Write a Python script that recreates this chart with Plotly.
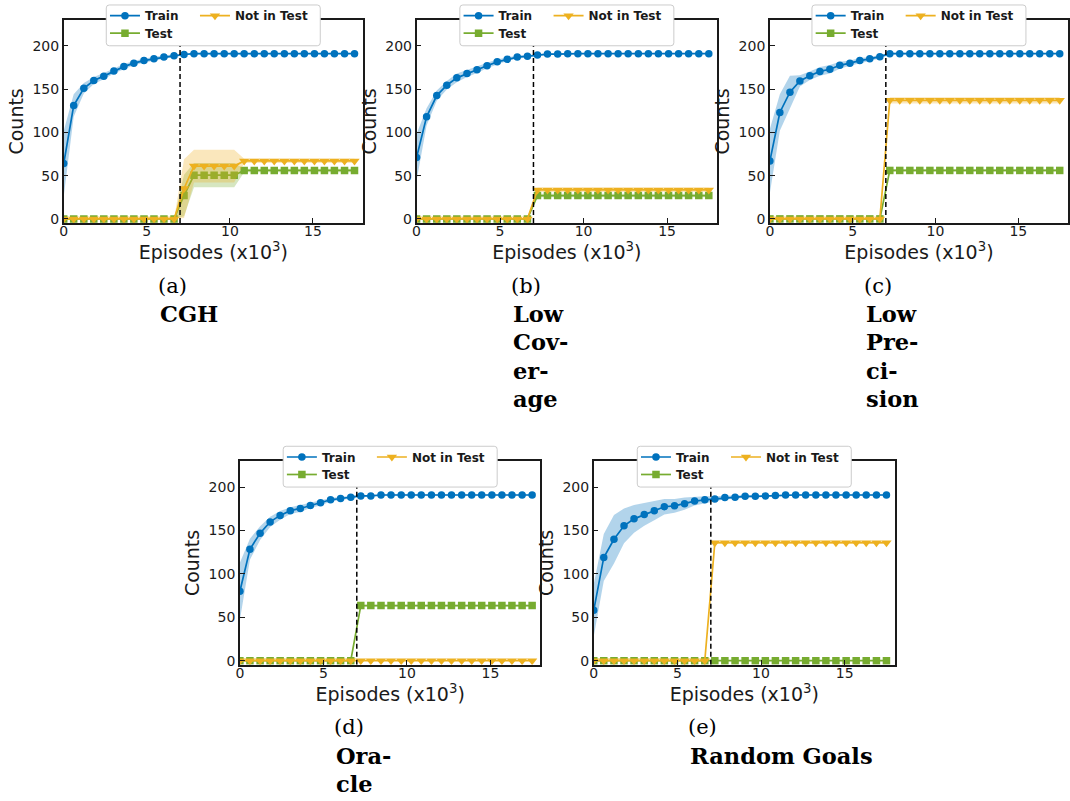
import plotly.graph_objects as go

W, H = 1070, 801

# ---------------- data ----------------
episodes = [0.0, 0.6, 1.21, 1.81, 2.41, 3.02, 3.62, 4.22, 4.83, 5.43, 6.03, 6.64,
            7.24, 7.84, 8.45, 9.05, 9.66, 10.26, 10.86, 11.47, 12.07, 12.67, 13.28,
            13.88, 14.48, 15.09, 15.69, 16.29, 16.9, 17.5]
switch_episode = 7.0
switch_top = 200

x_ticks = [0, 5, 10, 15]
y_ticks = [0, 50, 100, 150, 200]
series_names = ["Train", "Test", "Not in Test"]
captions = ["(a)", "(b)", "(c)", "(d)", "(e)"]
caption_titles = [["CGH"], ["Low", "Cov-", "er-", "age"], ["Low", "Pre-", "ci-", "sion"],
                  ["Ora-", "cle"], ["Random Goals"]]

# (a) CGH
train_a = [64, 131, 151, 160, 165, 171, 176, 180, 183, 185, 187, 188.5, 190, 191, 191,
           191, 191, 191, 191, 191, 191, 191, 191, 191, 191, 191, 191, 191, 191, 191]
train_sd_a = [38, 13, 6, 4, 3.5, 3, 3, 2.5, 2.5, 2, 2, 1.5, 1, 1, 0.8,
              0.8, 0.8, 0.8, 0.5, 0.5, 0.5, 0.5, 0.5, 0.5, 0.5, 0.5, 0.5, 0.5, 0.5, 0.5]
test_a = [0, 0, 0, 0, 0, 0, 0, 0, 0, 0, 0, 0, 27, 50.5, 50.5,
          50.5, 50.5, 50.5, 56, 56, 56, 56, 56, 56, 56, 56, 56, 56, 56, 56]
test_sd_a = [0, 0, 0, 0, 0, 0, 0, 0, 0, 0, 0, 0, 24, 14, 14,
             14, 14, 14, 2, 2, 2, 2, 2, 2, 2, 2, 2, 2, 2, 2]
nit_a = [0, 0, 0, 0, 0, 0, 0, 0, 0, 0, 0, 0, 35, 61, 61,
         61, 61, 61, 67, 67, 67, 67, 67, 67, 67, 67, 67, 67, 67, 67]
nit_sd_a = [0, 0, 0, 0, 0, 0, 0, 0, 0, 0, 0, 0, 34, 19, 19,
            19, 19, 19, 2.5, 2.5, 2.5, 2.5, 2.5, 2.5, 2.5, 2.5, 2.5, 2.5, 2.5, 2.5]

# (b) Low Coverage
train_b = [71, 118, 142.5, 154.5, 163, 168, 172.5, 177, 181.5, 184.5, 187, 188, 189.5, 190.5, 190.5,
           191, 191, 191, 191, 191, 191, 191, 191, 191, 191, 191, 191, 191, 191, 191]
train_sd_b = [27, 10, 6, 5, 5, 4, 4, 3, 3, 2, 2, 1.5, 1, 1, 0.8,
              0.8, 0.8, 0.8, 0.5, 0.5, 0.5, 0.5, 0.5, 0.5, 0.5, 0.5, 0.5, 0.5, 0.5, 0.5]
test_b = [0, 0, 0, 0, 0, 0, 0, 0, 0, 0, 0, 0, 27, 27, 27,
          27, 27, 27, 27, 27, 27, 27, 27, 27, 27, 27, 27, 27, 27, 27]
test_sd_b = [0, 0, 0, 0, 0, 0, 0, 0, 0, 0, 0, 0, 2, 2, 2,
             2, 2, 2, 2, 2, 2, 2, 2, 2, 2, 2, 2, 2, 2, 2]
nit_b = [0, 0, 0, 0, 0, 0, 0, 0, 0, 0, 0, 0, 33.5, 33.5, 33.5,
         33.5, 33.5, 33.5, 33.5, 33.5, 33.5, 33.5, 33.5, 33.5, 33.5, 33.5, 33.5, 33.5, 33.5, 33.5]
nit_sd_b = [0, 0, 0, 0, 0, 0, 0, 0, 0, 0, 0, 0, 2.5, 2.5, 2.5,
            2.5, 2.5, 2.5, 2.5, 2.5, 2.5, 2.5, 2.5, 2.5, 2.5, 2.5, 2.5, 2.5, 2.5, 2.5]

# (c) Low Precision
train_c = [67, 123, 146.5, 159.5, 165.5, 170.5, 173, 177.5, 180, 183, 185, 187.5, 191, 191, 191,
           191, 191, 191, 191, 191, 191, 191, 191, 191, 191, 191, 191, 191, 191, 191]
train_sd_c = [37, 21, 19, 6.5, 5, 5, 5, 4, 3, 3, 2, 2, 1, 1, 0.8,
              0.8, 0.8, 0.8, 0.5, 0.5, 0.5, 0.5, 0.5, 0.5, 0.5, 0.5, 0.5, 0.5, 0.5, 0.5]
test_c = [0, 0, 0, 0, 0, 0, 0, 0, 0, 0, 0, 0, 56, 56, 56,
          56, 56, 56, 56, 56, 56, 56, 56, 56, 56, 56, 56, 56, 56, 56]
test_sd_c = [0, 0, 0, 0, 0, 0, 0, 0, 0, 0, 0, 0, 1.5, 1.5, 1.5,
             1.5, 1.5, 1.5, 1.5, 1.5, 1.5, 1.5, 1.5, 1.5, 1.5, 1.5, 1.5, 1.5, 1.5, 1.5]
nit_c = [0, 0, 0, 0, 0, 0, 0, 0, 0, 0, 0, 0, 137, 137, 137,
         137, 137, 137, 137, 137, 137, 137, 137, 137, 137, 137, 137, 137, 137, 137]
nit_sd_c = [0, 0, 0, 0, 0, 0, 0, 0, 0, 0, 0, 0, 3.5, 3.5, 3.5,
            3.5, 3.5, 3.5, 3.5, 3.5, 3.5, 3.5, 3.5, 3.5, 3.5, 3.5, 3.5, 3.5, 3.5, 3.5]

# (d) Oracle
train_d = [80, 128.5, 147, 160, 167.5, 173, 175.5, 179, 182, 185.5, 187, 188.5, 190, 190, 191,
           191, 191, 191, 191, 191, 191, 191, 191, 191, 191, 191, 191, 191, 191, 191]
train_sd_d = [33, 12, 8, 6, 5, 4, 4, 3, 3, 2, 2, 1.5, 1, 1, 0.8,
              0.8, 0.8, 0.8, 0.5, 0.5, 0.5, 0.5, 0.5, 0.5, 0.5, 0.5, 0.5, 0.5, 0.5, 0.5]
test_d = [0, 0, 0, 0, 0, 0, 0, 0, 0, 0, 0, 0, 63.5, 63.5, 63.5,
          63.5, 63.5, 63.5, 63.5, 63.5, 63.5, 63.5, 63.5, 63.5, 63.5, 63.5, 63.5, 63.5, 63.5, 63.5]
test_sd_d = [0, 0, 0, 0, 0, 0, 0, 0, 0, 0, 0, 0, 1, 1, 1,
             1, 1, 1, 1, 1, 1, 1, 1, 1, 1, 1, 1, 1, 1, 1]
nit_d = [0, 0, 0, 0, 0, 0, 0, 0, 0, 0, 0, 0, 0, 0, 0,
         0, 0, 0, 0, 0, 0, 0, 0, 0, 0, 0, 0, 0, 0, 0]
nit_sd_d = [0, 0, 0, 0, 0, 0, 0, 0, 0, 0, 0, 0, 0, 0, 0,
            0, 0, 0, 0, 0, 0, 0, 0, 0, 0, 0, 0, 0, 0, 0]

# (e) Random Goals
train_e = [58, 119, 140, 155.5, 163.5, 168.5, 173, 177.5, 178.5, 181, 184, 185.5, 186.5, 188, 188.5,
           189.5, 189.5, 190, 190.5, 191, 191, 191, 191, 191, 191, 191, 191, 191, 191, 191]
train_sd_e = [30, 27, 28, 20, 16, 13, 11, 9, 8, 7, 5, 4, 3, 2, 2,
              1.5, 1, 1, 1, 0.8, 0.8, 0.8, 0.5, 0.5, 0.5, 0.5, 0.5, 0.5, 0.5, 0.5]
test_e = [0, 0, 0, 0, 0, 0, 0, 0, 0, 0, 0, 0, 0, 0, 0,
          0, 0, 0, 0, 0, 0, 0, 0, 0, 0, 0, 0, 0, 0, 0]
test_sd_e = [0, 0, 0, 0, 0, 0, 0, 0, 0, 0, 0, 0, 0, 0, 0,
             0, 0, 0, 0, 0, 0, 0, 0, 0, 0, 0, 0, 0, 0, 0]
nit_e = [0, 0, 0, 0, 0, 0, 0, 0, 0, 0, 0, 0, 136, 136, 136,
         136, 136, 136, 136, 136, 136, 136, 136, 136, 136, 136, 136, 136, 136, 136]
nit_sd_e = [0, 0, 0, 0, 0, 0, 0, 0, 0, 0, 0, 0, 1.5, 1.5, 1.5,
            1.5, 1.5, 1.5, 1.5, 1.5, 1.5, 1.5, 1.5, 1.5, 1.5, 1.5, 1.5, 1.5, 1.5, 1.5]

panels_data = [
    [(train_a, train_sd_a), (test_a, test_sd_a), (nit_a, nit_sd_a)],
    [(train_b, train_sd_b), (test_b, test_sd_b), (nit_b, nit_sd_b)],
    [(train_c, train_sd_c), (test_c, test_sd_c), (nit_c, nit_sd_c)],
    [(train_d, train_sd_d), (test_d, test_sd_d), (nit_d, nit_sd_d)],
    [(train_e, train_sd_e), (test_e, test_sd_e), (nit_e, nit_sd_e)],
]

# ---------------- style / layout ----------------
colors = [(0, 114, 189), (119, 172, 48), (237, 177, 32)]
symbols = ["circle", "square", "triangle-down"]
msizes = [7.5, 7.5, 9]

# axes boxes in pixels: left, right, top, bottom
boxes = [(60, 360.5, 20, 224), (414.5, 716.5, 20, 224), (769.5, 1069, 20, 224),
         (237, 539, 463.5, 668), (592.5, 895, 463.5, 668)]
x_range = [0, 18]
y_range = [-4.6, 230]

SANS = "DejaVu Sans"
SERIF = "DejaVu Serif"
INK = "#1a1a1a"


def px(xp):
    return xp / W


def py(yp):
    return 1 - yp / H


def rgba(c, a):
    return "rgba(%d,%d,%d,%s)" % (c[0], c[1], c[2], a)


fig = go.Figure()
layout = dict(width=W, height=H, margin=dict(l=0, r=0, t=0, b=0),
              paper_bgcolor="white", plot_bgcolor="white", showlegend=True)
shapes = []
annotations = []

for i, (box, pdata) in enumerate(zip(boxes, panels_data)):
    L, R, T, B = box
    n = i + 1
    xa = "x" if n == 1 else "x%d" % n
    ya = "y" if n == 1 else "y%d" % n
    xkey = "xaxis" if n == 1 else "xaxis%d" % n
    ykey = "yaxis" if n == 1 else "yaxis%d" % n
    leg1 = "legend" if i == 0 else "legend%d" % (2 * i + 1)
    leg2 = "legend%d" % (2 * i + 2)

    for k, (mean, sd) in enumerate(pdata):
        c = colors[k]
        lower = [m - s for m, s in zip(mean, sd)]
        upper = [m + s for m, s in zip(mean, sd)]
        fig.add_trace(go.Scatter(x=episodes, y=lower, mode="lines", line=dict(width=0, color=rgba(c, 0)),
                                 showlegend=False, hoverinfo="skip", xaxis=xa, yaxis=ya))
        fig.add_trace(go.Scatter(x=episodes, y=upper, mode="lines", line=dict(width=0, color=rgba(c, 0)),
                                 fill="tonexty", fillcolor=rgba(c, 0.3),
                                 showlegend=False, hoverinfo="skip", xaxis=xa, yaxis=ya))
        tr = dict(x=episodes, y=mean, mode="lines+markers", name=series_names[k],
                  line=dict(width=1.7, color=rgba(c, 1)),
                  marker=dict(symbol=symbols[k], size=msizes[k], color=rgba(c, 1),
                              line=dict(width=0)),
                  legend=(leg2 if k == 1 else leg1), xaxis=xa, yaxis=ya)
        if k == 0:
            tr["legendwidth"] = 45
        fig.add_trace(go.Scatter(**tr))

    common = dict(showgrid=False, zeroline=False, showline=True, mirror=True,
                  linecolor=INK, linewidth=1.5, ticks="inside", ticklen=5, tickwidth=1.3,
                  tickcolor=INK, tickfont=dict(family=SANS, size=14, color=INK))
    layout[xkey] = dict(common, domain=[px(L), px(R)], range=x_range, tickvals=x_ticks,
                        anchor=ya, ticklabelstandoff=-5,
                        title=dict(text="Episodes (x10<sup>3</sup>)", standoff=4,
                                   font=dict(family=SANS, size=19, color=INK)))
    layout[ykey] = dict(common, domain=[py(B), py(T)], range=y_range, tickvals=y_ticks,
                        anchor=xa,
                        title=dict(text="Counts", standoff=4,
                                   font=dict(family=SANS, size=19, color=INK)))

    # switch line
    shapes.append(dict(type="line", xref=xa, yref=ya, x0=switch_episode, x1=switch_episode,
                       y0=y_range[0], y1=switch_top, layer="above",
                       line=dict(color="black", width=1.5, dash="5px,3px")))

    # legend frame (rounded box)
    cx = (L + R) / 2
    bx0, bx1 = cx - 107.5, cx + 107.5
    by0, by1 = T - 15, T + 26
    r = 3
    path = ("M %f,%f L %f,%f Q %f,%f %f,%f L %f,%f Q %f,%f %f,%f L %f,%f Q %f,%f %f,%f "
            "L %f,%f Q %f,%f %f,%f Z") % (
        px(bx0 + r), py(by0), px(bx1 - r), py(by0), px(bx1), py(by0), px(bx1), py(by0 + r),
        px(bx1), py(by1 - r), px(bx1), py(by1), px(bx1 - r), py(by1),
        px(bx0 + r), py(by1), px(bx0), py(by1), px(bx0), py(by1 - r),
        px(bx0), py(by0 + r), px(bx0), py(by0), px(bx0 + r), py(by0))
    shapes.append(dict(type="path", xref="paper", yref="paper", path=path, layer="above",
                       fillcolor="white", line=dict(color="#cccccc", width=1)))

    legfont = dict(family=SANS, size=12, color=INK, weight="bold")
    layout[leg1] = dict(orientation="h", x=px(bx0 + 3.7 - 5), xanchor="left",
                        y=py(by0 + 10.7 - 14.5), yanchor="top", bgcolor="rgba(0,0,0,0)",
                        borderwidth=0, font=legfont, traceorder="normal",
                        itemsizing="trace")
    layout[leg2] = dict(orientation="h", x=px(bx0 + 3.7 - 5), xanchor="left",
                        y=py(by0 + 28.3 - 14.5), yanchor="top", bgcolor="rgba(0,0,0,0)",
                        borderwidth=0, font=legfont, traceorder="normal", itemsizing="trace")

    # caption
    cap_left = L + 93
    cap_y = B + 63
    annotations.append(dict(text=captions[i], xref="paper", yref="paper", x=px(cap_left),
                            y=py(cap_y), xanchor="left", yanchor="middle", showarrow=False,
                            font=dict(family=SERIF, size=21, color="black")))
    for j, line in enumerate(caption_titles[i]):
        annotations.append(dict(text="<b>%s</b>" % line, xref="paper", yref="paper",
                                x=px(cap_left + 2), y=py(cap_y + 28.5 * (j + 1)),
                                xanchor="left", yanchor="middle", showarrow=False,
                                font=dict(family=SERIF, size=22.5, color="black")))

layout["shapes"] = shapes
layout["annotations"] = annotations
fig.update_layout(**layout)
fig.write_html("out.html", config={"displayModeBar": False},
               post_script="document.body.style.margin='0';document.body.style.overflow='hidden';")
